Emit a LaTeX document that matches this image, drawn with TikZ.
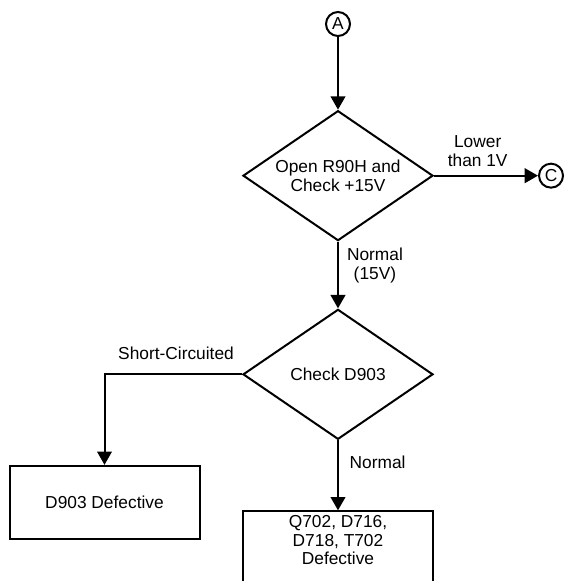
\documentclass[tikz,border=0pt]{standalone}
\usepackage{fontspec}
\setmainfont{Liberation Sans}
\usepackage{tikz}
\usetikzlibrary{positioning,arrows.meta,shapes.geometric}

\begin{document}
\begin{tikzpicture}[
    x=0.75pt, y=-0.75pt,
    font=\fontsize{13pt}{14pt}\selectfont, line width=1.5pt,
    >={Triangle[length=10pt,width=11pt]}, node distance=50pt,
    conn/.style={draw, circle, minimum size=18pt, inner sep=0pt},
    dia/.style={draw, diamond, aspect=1.46, align=center, inner sep=0pt, minimum width=142.5pt, minimum height=97.5pt},
    blk/.style={draw, rectangle, align=center, inner sep=3pt, minimum width=142.5pt},
    lbl/.style={align=center, inner sep=2pt}]
  \useasboundingbox (0,0) rectangle (565,581);
  \clip (0,0) rectangle (565,581);
  \node[conn] (a) at (338,24) {A};
  \node[dia, below=54.5pt of a] (chk15) {Open R90H and\\Check +15V};
  \node[conn, right=78pt of chk15] (c) {C};
  \node[dia, below=50pt of chk15] (chkd) {Check D903};
  \node[blk, below=52.5pt of chkd, text depth=52pt] (q702) {Q702, D716,\\D718, T702\\Defective};
  \node[blk, minimum height=55pt] (d903) at (104.5,502.5) {D903 Defective};
  \draw[->] (a) -- (chk15);
  \draw[->] (chk15) -- node[lbl, pos=0.42, above=4pt] {Lower\\than 1V} (c);
  \draw[->] (chk15) -- node[lbl, pos=0.36, right=4pt] {Normal\\(15V)} (chkd);
  \draw[->] (chkd.west) -| node[lbl, pos=0.24, above=8pt] {Short-Circuited} (d903.north);
  \draw[->] (chkd) -- node[lbl, pos=0.31, right=6pt] {Normal} (q702);
\end{tikzpicture}
\end{document}
